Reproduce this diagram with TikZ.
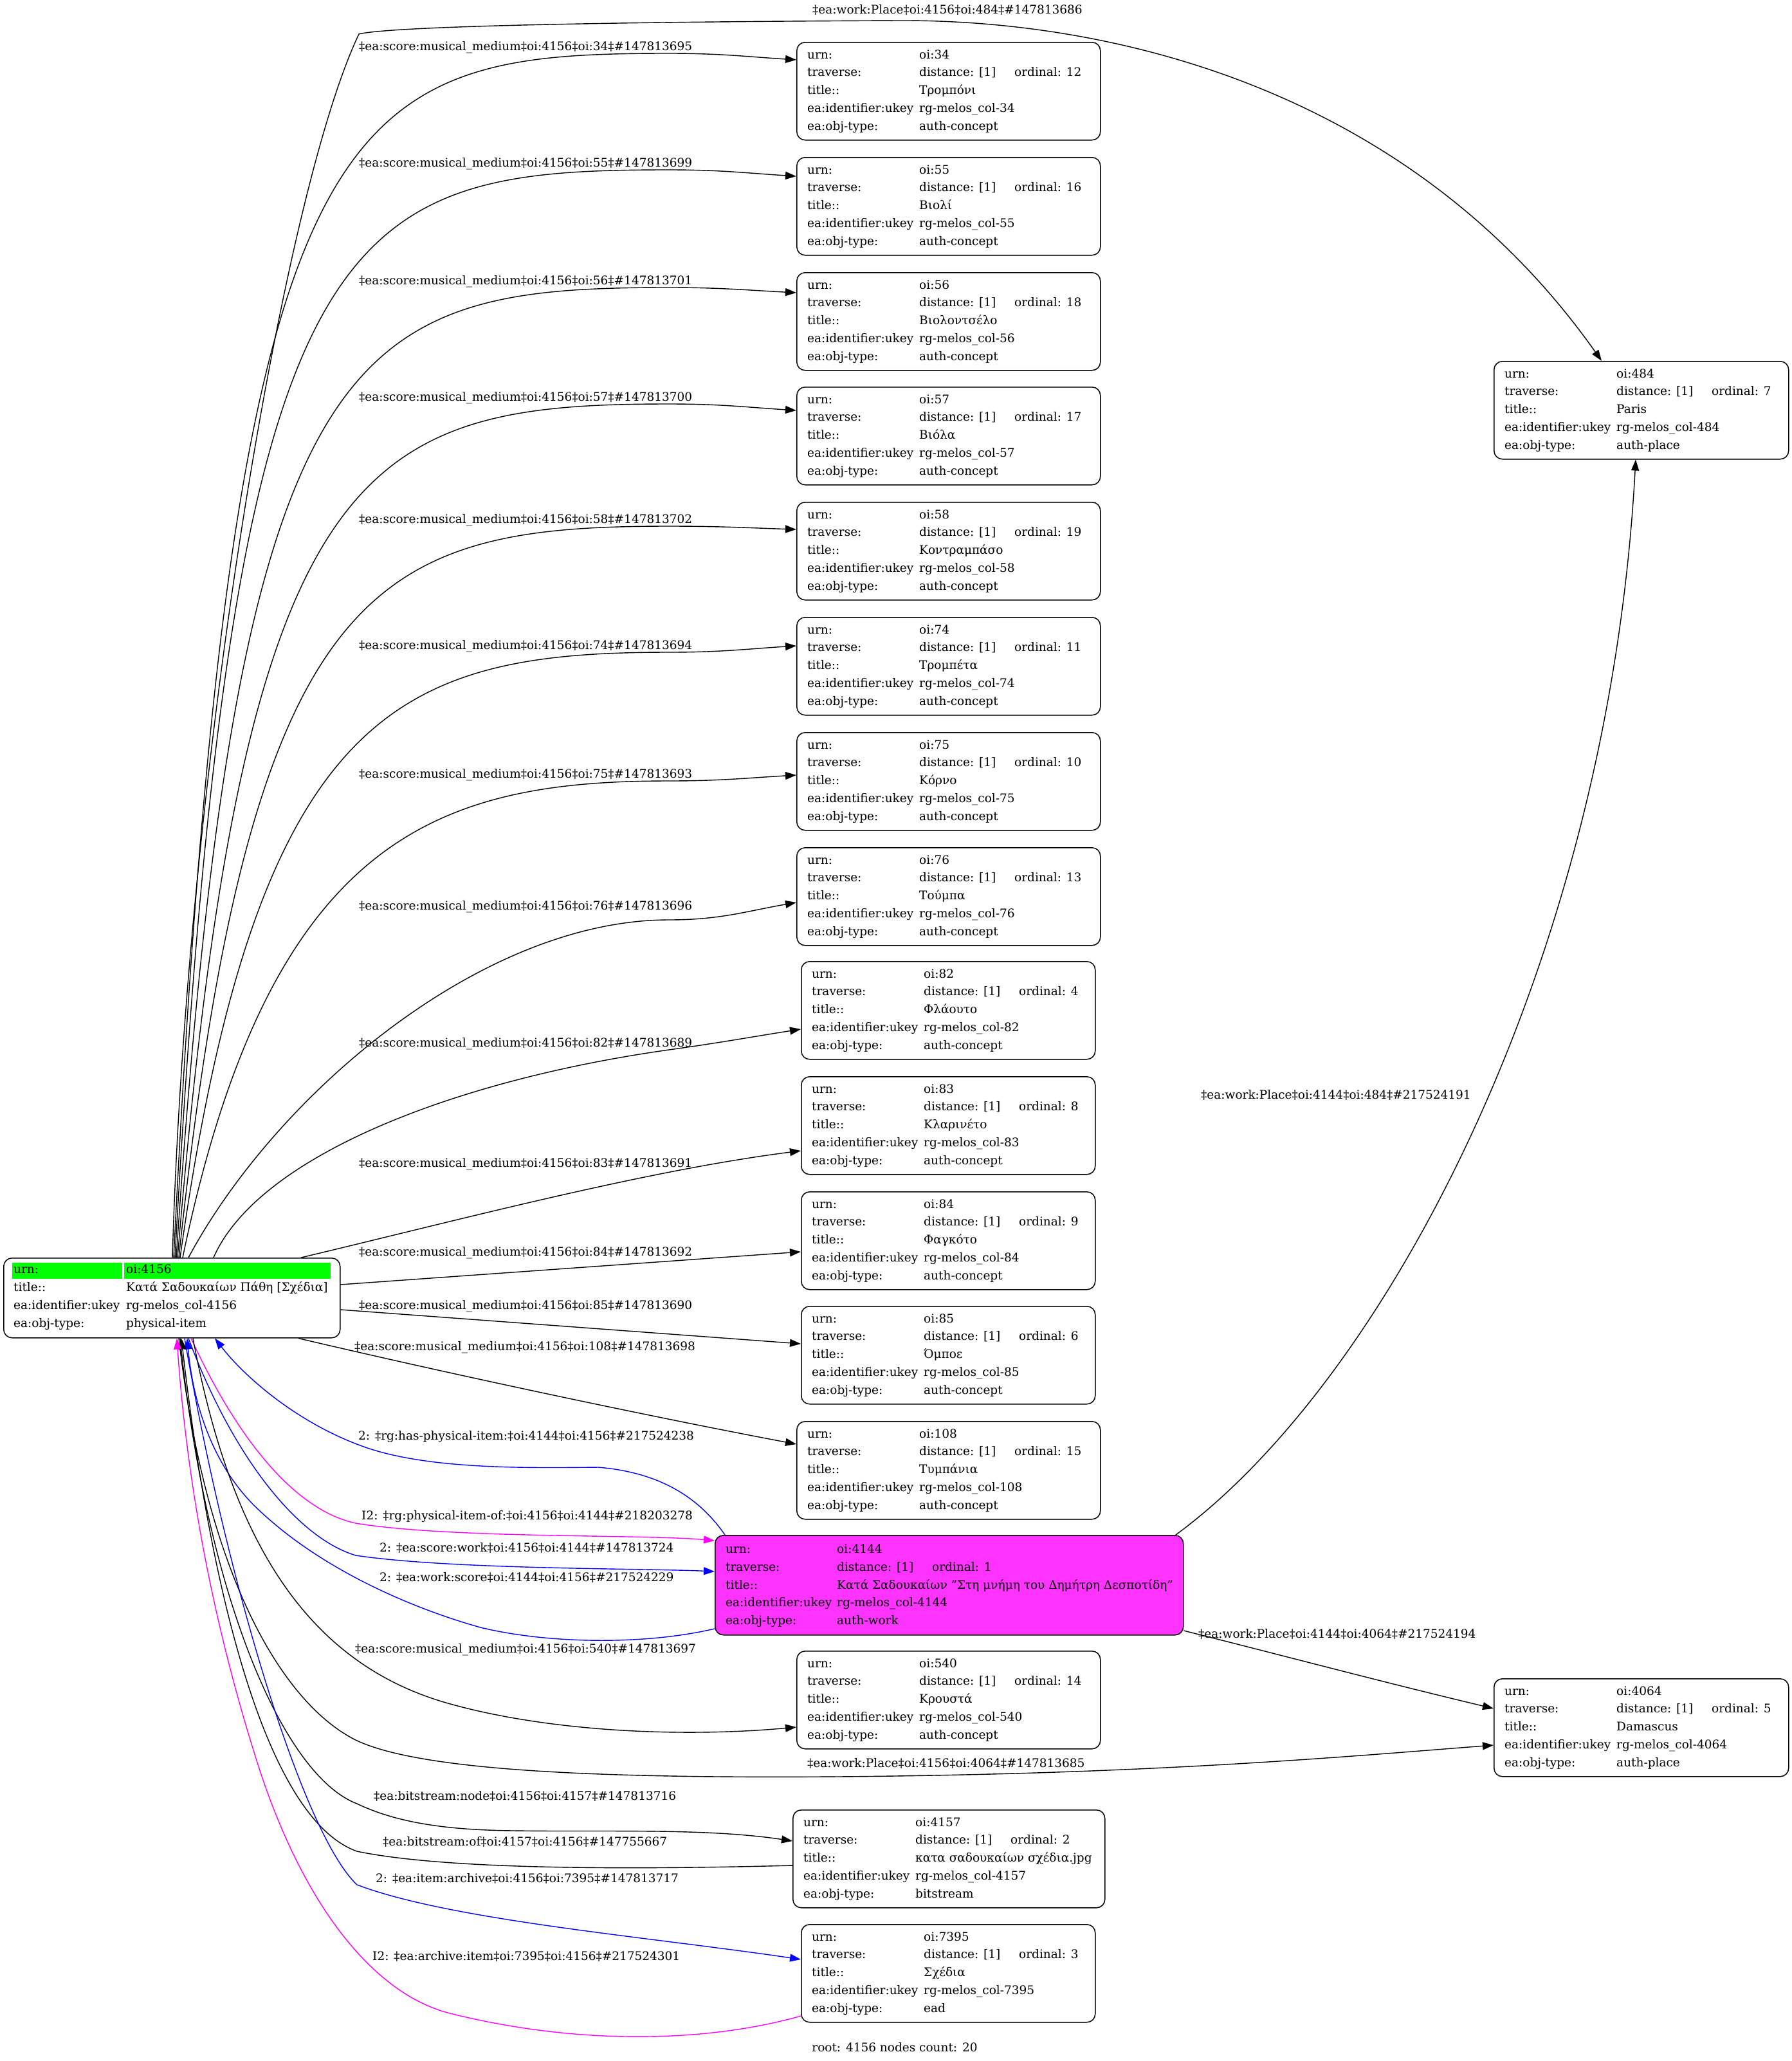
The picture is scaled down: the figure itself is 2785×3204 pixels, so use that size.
\documentclass[tikz,border=0pt]{standalone}
\usepackage{fontspec}
\setmainfont{DejaVu Serif}
\usetikzlibrary{arrows.meta}
\definecolor{gvgreen}{RGB}{0,255,0}
\definecolor{gvmag}{RGB}{255,0,255}
\definecolor{gvfill}{RGB}{255,51,255}
\definecolor{gvblue}{RGB}{0,0,255}
\tikzset{
 every node/.style={font=\fontsize{18.5}{27.75}\selectfont, inner sep=0pt},
 box/.style={draw, line width=1.5pt, rounded corners=13pt, minimum height=152pt, anchor=north west},
 txt/.style={anchor=base west},
 lbl/.style={anchor=base west},
 edge/.style={draw, line width=1.4pt, -{Triangle[length=17pt,width=12pt]}},
}
\newcommand\cbox[8]{%
 \node[box, minimum width=#4pt] (#1) at (#2,#3) {};
 \node[txt] (#1-k1) at ({#2+17},{#3+26}) {urn:};
 \node[txt] (#1-v1) at ({#2+191},{#3+26}) {oi:#5};
 \node[txt] (#1-k2) at ({#2+17},{#3+53.75}) {traverse:};
 \node[txt] (#1-v2) at ({#2+191},{#3+53.75}) {distance: [1]};
 \node[txt] (#1-o2) at ({#2+339},{#3+53.75}) {ordinal: #6};
 \node[txt] (#1-k3) at ({#2+17},{#3+81.5}) {title::};
 \node[txt] (#1-v3) at ({#2+191},{#3+81.5}) {#7};
 \node[txt] (#1-k4) at ({#2+17},{#3+109.25}) {ea:identifier:ukey};
 \node[txt] (#1-v4) at ({#2+191},{#3+109.25}) {rg-melos\_col-#5};
 \node[txt] (#1-k5) at ({#2+17},{#3+137}) {ea:obj-type:};
 \node[txt] (#1-v5) at ({#2+191},{#3+137}) {#8};
}
\newcommand\medge[7]{%
 \draw[edge] (#2,0 |- n4156.north) .. controls (#3,#4) and (#5,#6) .. (1040,#6) .. controls (1120,#6) and (1160,{(#6+#7)/2}) .. (#1.west |- 0,#7);}
\begin{document}
\begin{tikzpicture}[x=1pt,y=-1pt]
\useasboundingbox (0,0) rectangle (2785,3204);
\fill[white] (0,0) rectangle (2785,3204);

% root node
\node[box, minimum width=523pt, minimum height=124pt] (n4156) at (5,1955) {};
\fill[gvgreen] (18.6,1963) rectangle (190.4,1988);
\fill[gvgreen] (193.2,1963) rectangle (514.3,1988);
\node[txt] (r-k1) at (21,1979) {urn:};
\node[txt] (r-v1) at (196,1979) {oi:4156};
\node[txt] (r-k2) at (21,2007) {title::};
\node[txt] (r-v2) at (196,2007) {Κατά Σαδουκαίων Πάθη [Σχέδια]};
\node[txt] (r-k3) at (21,2035) {ea:identifier:ukey};
\node[txt] (r-v3) at (196,2035) {rg-melos\_col-4156};
\node[txt] (r-k4) at (21,2063) {ea:obj-type:};
\node[txt] (r-v4) at (196,2063) {physical-item};

% work node
\node[box, fill=gvfill, minimum width=728pt, minimum height=155pt] (n4144) at (1111,2386) {};
\node[txt] (w-k1) at (1128,2414.3) {urn:};
\node[txt] (w-v1) at (1301,2414.3) {oi:4144};
\node[txt] (w-k2) at (1128,2442.1) {traverse:};
\node[txt] (w-v2) at (1301,2442.1) {distance: [1]};
\node[txt] (w-o2) at (1449,2442.1) {ordinal: 1};
\node[txt] (w-k3) at (1128,2470) {title::};
\node[txt] (w-v3) at (1301,2470) {Κατά Σαδουκαίων "Στη μνήμη του Δημήτρη Δεσποτίδη"};
\node[txt] (w-k4) at (1128,2497.8) {ea:identifier:ukey};
\node[txt] (w-v4) at (1301,2497.8) {rg-melos\_col-4144};
\node[txt] (w-k5) at (1128,2525.7) {ea:obj-type:};
\node[txt] (w-v5) at (1301,2525.7) {auth-work};

% other nodes
\cbox{n34}{1238}{65}{472}{34}{12}{Τρομπόνι}{auth-concept}
\cbox{n55}{1238}{244}{472}{55}{16}{Βιολί}{auth-concept}
\cbox{n56}{1238}{423}{472}{56}{18}{Βιολοντσέλο}{auth-concept}
\cbox{n57}{1238}{601}{472}{57}{17}{Βιόλα}{auth-concept}
\cbox{n58}{1238}{780}{472}{58}{19}{Κοντραμπάσο}{auth-concept}
\cbox{n74}{1238}{959}{472}{74}{11}{Τρομπέτα}{auth-concept}
\cbox{n75}{1238}{1138}{472}{75}{10}{Κόρνο}{auth-concept}
\cbox{n76}{1238}{1317}{472}{76}{13}{Τούμπα}{auth-concept}
\cbox{n82}{1245}{1494}{457}{82}{4}{Φλάουτο}{auth-concept}
\cbox{n83}{1245}{1673}{457}{83}{8}{Κλαρινέτο}{auth-concept}
\cbox{n84}{1245}{1852}{457}{84}{9}{Φαγκότο}{auth-concept}
\cbox{n85}{1245}{2030}{457}{85}{6}{Όμποε}{auth-concept}
\cbox{n108}{1238}{2209}{472}{108}{15}{Τυμπάνια}{auth-concept}
\cbox{n540}{1238}{2566}{472}{540}{14}{Κρουστά}{auth-concept}
\cbox{n4157}{1232}{2813}{485}{4157}{2}{κατα σαδουκαίων σχέδια.jpg}{bitstream}
\cbox{n7395}{1245}{2991}{457}{7395}{3}{Σχέδια}{ead}
\cbox{n484}{2322}{561}{458}{484}{7}{Paris}{auth-place}
\cbox{n4064}{2322}{2609}{458}{4064}{5}{Damascus}{auth-place}

% edges from root to concepts
\draw[edge] (268,0 |- n4156.north) .. controls (290,1200) and (440,300) .. (558,53) .. controls (600,42) and (900,34) .. (1400,32) .. controls (1750,31) and (2200,150) .. (2490,0 |- n484.north);
\medge{n34}{270}{360}{150}{520}{83}{93}
\medge{n55}{272}{362}{334}{520}{264}{274}
\medge{n56}{274}{370}{520}{540}{447}{455}
\medge{n57}{276}{380}{710}{560}{628}{638}
\medge{n58}{278}{390}{900}{580}{818}{823}
\medge{n74}{280}{400}{1100}{620}{1014}{1004}
\medge{n75}{284}{420}{1300}{680}{1214}{1205}
\medge{n76}{293}{430}{1700}{750}{1430}{1403}
\draw[edge] (332,0 |- n4156.north) .. controls (400,1800) and (700,1680) .. (1040,1632) .. controls (1120,1621) and (1180,1610) .. (n82.west |- 0,1600);
\draw[edge] (468,0 |- n4156.north) .. controls (700,1900) and (1000,1820) .. (n83.west |- 0,1789);
\draw[edge] (n4156.east |- 0,1997) -- (n84.west |- 0,1946);
\draw[edge] (n4156.east |- 0,2036) -- (n85.west |- 0,2089);
\draw[edge] (464,0 |- n4156.south) .. controls (700,2136) and (1000,2200) .. (n108.west |- 0,2245);

% edges between root and work
\draw[edge, gvblue] (1127,0 |- n4144.north) .. controls (1095,2340) and (1040,2290) .. (930,2281) .. controls (820,2282) and (660,2285) .. (560,2247) .. controls (460,2210) and (380,2140) .. (334,0 |- n4156.south);
\draw[edge, gvmag] (297,0 |- n4156.south) .. controls (380,2260) and (470,2350) .. (553,2368) .. controls (700,2392) and (1000,2385) .. (n4144.west |- 0,2395);
\draw[edge, gvblue] (293,0 |- n4156.south) .. controls (360,2260) and (460,2390) .. (553,2418) .. controls (700,2440) and (1000,2438) .. (n4144.west |- 0,2443);
\draw[edge, gvblue] (n4144.west |- 0,2532) .. controls (1000,2558) and (850,2555) .. (747,2530) .. controls (640,2500) and (500,2440) .. (402,2347) .. controls (330,2280) and (300,2180) .. (291,0 |- n4156.south);

% lower edges
\draw[edge] (300,0 |- n4156.south) .. controls (360,2400) and (480,2590) .. (704,2650) .. controls (850,2690) and (1050,2702) .. (n540.west |- 0,2685);
\draw[edge] (278,0 |- n4156.south) .. controls (320,2450) and (440,2650) .. (555,2706) .. controls (650,2750) and (900,2765) .. (1300,2762) .. controls (1800,2758) and (2100,2730) .. (n4064.west |- 0,2713);
\draw[edge] (280,0 |- n4156.south) .. controls (320,2480) and (440,2760) .. (555,2804) .. controls (620,2835) and (700,2845) .. (800,2846) .. controls (950,2848) and (1100,2842) .. (n4157.west |- 0,2862);
\draw[edge] (n4157.west |- 0,2900) .. controls (1000,2906) and (700,2908) .. (555,2878) .. controls (420,2830) and (330,2500) .. (282,0 |- n4156.south);
\draw[edge, gvblue] (287,0 |- n4156.south) .. controls (350,2450) and (470,2850) .. (555,2930) .. controls (700,2985) and (1000,3010) .. (n7395.west |- 0,3046);
\draw[edge, gvmag] (n7395.west |- 0,3134) .. controls (1100,3175) and (900,3180) .. (700,3130) .. controls (580,3100) and (470,2960) .. (400,2740) .. controls (330,2520) and (290,2300) .. (275,0 |- n4156.south);

% work to places
\draw[edge] (1828,0 |- n4144.north) .. controls (2150,2150) and (2500,1500) .. (2543,0 |- n484.south);
\draw[edge] (n4144.east |- 0,2535) .. controls (2000,2575) and (2150,2615) .. (n4064.west |- 0,2656);

% labels
\node[lbl] (l484a) at (1263,21) {‡ea:work:Place‡oi:4156‡oi:484‡\#147813686};
\node[lbl] (l34) at (558,78) {‡ea:score:musical\_medium‡oi:4156‡oi:34‡\#147813695};
\node[lbl] (l55) at (558,259) {‡ea:score:musical\_medium‡oi:4156‡oi:55‡\#147813699};
\node[lbl] (l56) at (558,442) {‡ea:score:musical\_medium‡oi:4156‡oi:56‡\#147813701};
\node[lbl] (l57) at (558,623) {‡ea:score:musical\_medium‡oi:4156‡oi:57‡\#147813700};
\node[lbl] (l58) at (558,813) {‡ea:score:musical\_medium‡oi:4156‡oi:58‡\#147813702};
\node[lbl] (l74) at (558,1009) {‡ea:score:musical\_medium‡oi:4156‡oi:74‡\#147813694};
\node[lbl] (l75) at (558,1209) {‡ea:score:musical\_medium‡oi:4156‡oi:75‡\#147813693};
\node[lbl] (l76) at (558,1414) {‡ea:score:musical\_medium‡oi:4156‡oi:76‡\#147813696};
\node[lbl] (l82) at (558,1627) {‡ea:score:musical\_medium‡oi:4156‡oi:82‡\#147813689};
\node[lbl] (l83) at (558,1814) {‡ea:score:musical\_medium‡oi:4156‡oi:83‡\#147813691};
\node[lbl] (l84) at (558,1952) {‡ea:score:musical\_medium‡oi:4156‡oi:84‡\#147813692};
\node[lbl] (l85) at (558,2035) {‡ea:score:musical\_medium‡oi:4156‡oi:85‡\#147813690};
\node[lbl] (l108) at (551,2099) {‡ea:score:musical\_medium‡oi:4156‡oi:108‡\#147813698};
\node[lbl] (lhas) at (557,2238) {2: ‡rg:has-physical-item:‡oi:4144‡oi:4156‡\#217524238};
\node[lbl] (lpio) at (562,2362) {I2: ‡rg:physical-item-of:‡oi:4156‡oi:4144‡\#218203278};
\node[lbl] (lsw) at (590,2412) {2: ‡ea:score:work‡oi:4156‡oi:4144‡\#147813724};
\node[lbl] (lws) at (590,2458) {2: ‡ea:work:score‡oi:4144‡oi:4156‡\#217524229};
\node[lbl] (l540) at (552,2569) {‡ea:score:musical\_medium‡oi:4156‡oi:540‡\#147813697};
\node[lbl] (l484b) at (1867,1708) {‡ea:work:Place‡oi:4144‡oi:484‡\#217524191};
\node[lbl] (l4064a) at (1863,2546) {‡ea:work:Place‡oi:4144‡oi:4064‡\#217524194};
\node[lbl] (l4064b) at (1255,2747) {‡ea:work:Place‡oi:4156‡oi:4064‡\#147813685};
\node[lbl] (lbn) at (581,2798) {‡ea:bitstream:node‡oi:4156‡oi:4157‡\#147813716};
\node[lbl] (lbo) at (595,2869) {‡ea:bitstream:of‡oi:4157‡oi:4156‡\#147755667};
\node[lbl] (lia) at (584,2926) {2: ‡ea:item:archive‡oi:4156‡oi:7395‡\#147813717};
\node[lbl] (lai) at (579,3047) {I2: ‡ea:archive:item‡oi:7395‡oi:4156‡\#217524301};
\node[anchor=base] (foot) at (1391,3189) {root: 4156 nodes count: 20};
\end{tikzpicture}
\end{document}
